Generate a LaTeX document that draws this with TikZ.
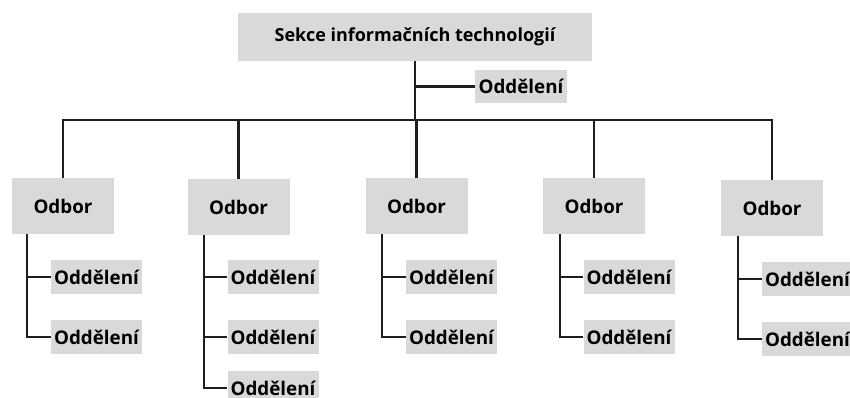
\documentclass[tikz,border=0pt]{standalone}
\usepackage{fontspec}
\setmainfont{Open Sans}
\usetikzlibrary{calc}

\definecolor{boxgray}{HTML}{D9D9D9}
\definecolor{linegray}{HTML}{1E1E1E}

\tikzset{
	unitbox/.style={fill=boxgray, inner sep=0pt, font=\fontsize{18.8}{22}\selectfont\bfseries, text=black},
	headbox/.style={unitbox, minimum width=354pt, minimum height=48pt, font=\fontsize{18}{22}\selectfont\bfseries},
	odborbox/.style={unitbox, minimum width=102pt, minimum height=56pt},
	oddbox/.style={unitbox, minimum width=91pt, minimum height=34pt},
	conn/.style={draw=linegray, line width=2.1pt}
}

\begin{document}
\begin{tikzpicture}[x=1pt, y=-1pt]
	\useasboundingbox (0, 0) rectangle (850, 398);
	
	% head of the section
	\node[headbox] (sekce) at (415, 37) {Sekce informačních technologií};
	\node[oddbox, minimum width=92pt, minimum height=33pt] (odd0) at (521, 86.5) {Oddělení};
	\coordinate (bar) at (415, 120);
	
	% the five departments
	\node[odborbox] (odbor1) at (63, 206) {Odbor};
	\node[odborbox] (odbor2) at (238.5, 207) {Odbor};
	\node[odborbox] (odbor3) at (416.5, 206) {Odbor};
	\node[odborbox] (odbor4) at (594, 206) {Odbor};
	\node[odborbox] (odbor5) at (772, 208) {Odbor};
	
	% their units
	\node[oddbox] (odd11) at (96.5, 277) {Oddělení};
	\node[oddbox] (odd12) at (96.5, 337) {Oddělení};
	
	\node[oddbox] (odd21) at (273, 277) {Oddělení};
	\node[oddbox] (odd22) at (273, 337) {Oddělení};
	\node[oddbox] (odd23) at (273, 388) {Oddělení};
	
	\node[oddbox] (odd31) at (451.5, 277) {Oddělení};
	\node[oddbox] (odd32) at (451.5, 337) {Oddělení};
	
	\node[oddbox] (odd41) at (629, 277) {Oddělení};
	\node[oddbox] (odd42) at (629, 337) {Oddělení};
	
	\node[oddbox] (odd51) at (807.5, 279) {Oddělení};
	\node[oddbox] (odd52) at (807.5, 339) {Oddělení};
	
	% trunk and bar
	\draw[conn] (sekce.south) -- (bar);
	\draw[conn] (sekce.south |- odd0.west) -- (odd0.west);
	\draw[conn] (odbor1.north) -- (odbor1.north |- bar) -- (odbor5.north |- bar) -- (odbor5.north);
	\draw[conn] (odbor2.north) -- (odbor2.north |- bar);
	\draw[conn] (odbor3.north) -- (odbor3.north |- bar);
	\draw[conn] (odbor4.north) -- (odbor4.north |- bar);
	
	% junctions under each department
	\coordinate (j1) at ($(odbor1.south west)+(15,0)$);
	\coordinate (j2) at ($(odbor2.south west)+(17,0)$);
	\coordinate (j3) at ($(odbor3.south west)+(17,0)$);
	\coordinate (j4) at ($(odbor4.south west)+(17,0)$);
	\coordinate (j5) at ($(odbor5.south west)+(17,0)$);
	
	\draw[conn] (j1) |- (odd12.west);
	\draw[conn] (j1 |- odd11.west) -- (odd11.west);
	
	\draw[conn] (j2) |- (odd23.west);
	\draw[conn] (j2 |- odd21.west) -- (odd21.west);
	\draw[conn] (j2 |- odd22.west) -- (odd22.west);
	
	\draw[conn] (j3) |- (odd32.west);
	\draw[conn] (j3 |- odd31.west) -- (odd31.west);
	
	\draw[conn] (j4) |- (odd42.west);
	\draw[conn] (j4 |- odd41.west) -- (odd41.west);
	
	\draw[conn] (j5) |- (odd52.west);
	\draw[conn] (j5 |- odd51.west) -- (odd51.west);
\end{tikzpicture}
\end{document}
